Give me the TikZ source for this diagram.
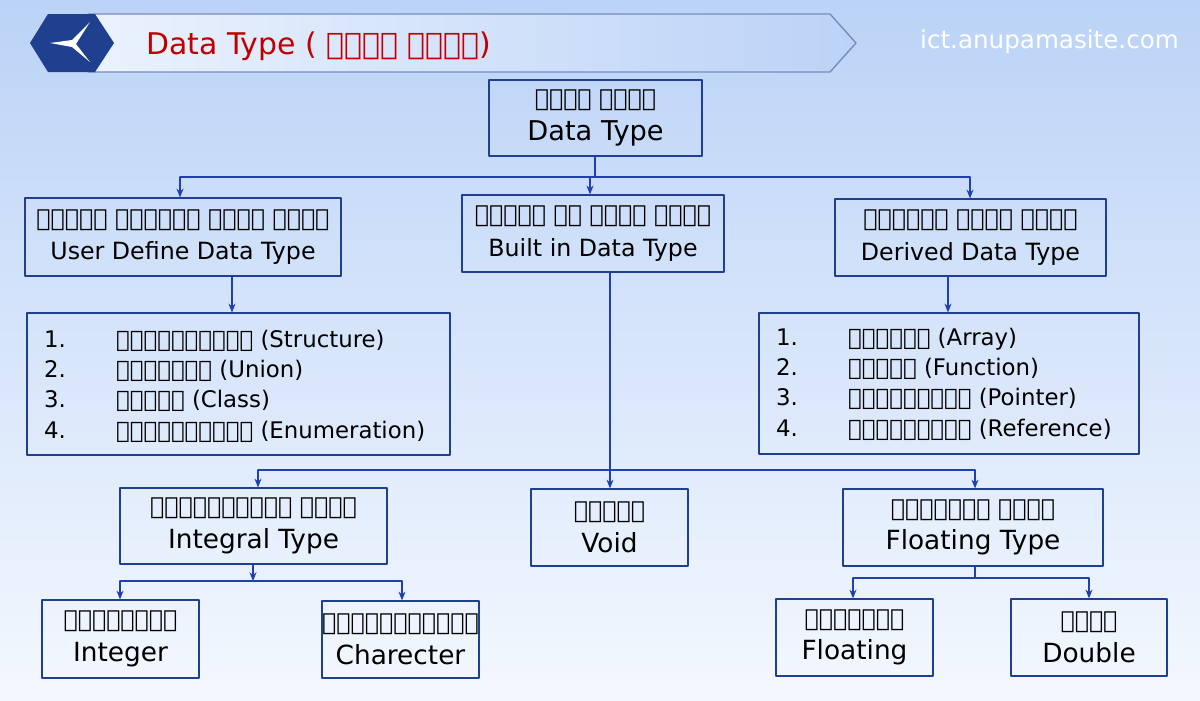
\documentclass[tikz,border=0pt]{standalone}
\usepackage{fontspec}
\setmainfont{DejaVu Sans}
\usetikzlibrary{arrows.meta,shapes.geometric}
\definecolor{boxblue}{HTML}{1F3F8F}
\definecolor{lineblue}{HTML}{2040B0}
\definecolor{bgtop}{HTML}{BBD3F7}
\definecolor{bgbot}{HTML}{F4F8FE}
\definecolor{titlered}{HTML}{C00000}
\tikzset{
  box/.style={draw=boxblue, line width=0.7pt, align=center, inner sep=0pt,
    font=\fontsize{13.5}{19}\selectfont},
  lst/.style={draw=boxblue, line width=0.7pt, align=left, inner sep=0pt},
  conn/.style={lineblue, line width=0.7pt},
  arr/.style={conn, -{Stealth[length=5pt,width=4pt]}}
}
\newcommand{\bx}[6]{% name, x1, y1, x2, y2, text
  \node[box, minimum width={(#4-#2)*0.02cm}, minimum height={(#5-#3)*0.02cm}]
    (#1) at ({(#2+#4)/2},{(#3+#5)/2}) {#6};}
\begin{document}
\begin{tikzpicture}[x=0.02cm, y=-0.02cm, line join=round, line cap=round]
  \shade[top color=bgtop, bottom color=bgbot] (0,0) rectangle (1200,700);
  \useasboundingbox (0,0) rectangle (1200,700);
  % banner
  \shade[left color=white!70!bgtop, right color=bgtop, draw=boxblue!60, line width=0.8pt]
    (88,14) -- (830,14) -- (856,43) -- (830,72) -- (88,72) -- cycle;
  \fill[boxblue] (48,14) -- (95,14) -- (114,43) -- (95,72) -- (48,72) -- (30,43) -- cycle;
  \fill[white] (50,43) -- (72,40) -- (90,22) -- (76,44) -- (90,62) -- (72,47) -- cycle;
  \node[anchor=west, text=titlered, font=\fontsize{17}{20}\selectfont]
    (title) at (140,46) {Data Type ( ডেটা টাইপ)};
  \node[anchor=east, text=white, font=\fontsize{14}{16}\selectfont]
    (site) at (1185,42) {ict.anupamasite.com};
  % boxes
  \bx{data}{489}{80}{702}{156}{ডেটা টাইপ\\\fontsize{15.5}{22}\selectfont Data Type}
  \bx{user}{25}{198}{341}{276}{ইউজার ডিফাইন ডেটা টাইপ\\User Define Data Type}
  \bx{built}{462}{195}{724}{272}{বিল্ড ইন ডেটা টাইপ\\Built in Data Type}
  \bx{derived}{835}{199}{1106}{276}{ডিরাইভ ডেটা টাইপ\\Derived Data Type}
  \bx{integral}{120}{488}{387}{564}{ইন্টিগ্রাল টাইপ\\\fontsize{15}{21}\selectfont Integral Type}
  \bx{void}{531}{489}{688}{566}{ভয়েড\\\fontsize{15}{21}\selectfont Void}
  \bx{floatT}{843}{489}{1103}{566}{ফ্লোটিং টাইপ\\\fontsize{15}{21}\selectfont Floating Type}
  \bx{integer}{42}{600}{199}{678}{ইন্টিজার\\\fontsize{15}{21}\selectfont Integer}
  \bx{charact}{322}{601}{479}{678}{ক্যারেক্টার\\\fontsize{15}{21}\selectfont Charecter}
  \bx{floating}{776}{599}{933}{676}{ফ্লোটিং\\\fontsize{15}{21}\selectfont Floating}
  \bx{double}{1011}{599}{1167}{676}{ডাবল\\\fontsize{15}{21}\selectfont Double}
  % lists
  \node[lst, minimum width=423*0.02cm, minimum height=142*0.02cm] (ulist) at (238.5,384) {};
  \node[anchor=north west, align=left, font=\fontsize{13}{17.2}\selectfont] (ultext) at (38,324)
    {1.\hspace{2.2em}স্ট্রাকচার (Structure)\\2.\hspace{2.2em}ইউনিয়ন (Union)\\
     3.\hspace{2.2em}ক্লাস (Class)\\4.\hspace{2.2em}এনিউমিরেশন (Enumeration)};
  \node[lst, minimum width=380*0.02cm, minimum height=141*0.02cm] (dlist) at (949,383.5) {};
  \node[anchor=north west, align=left, font=\fontsize{13}{17.2}\selectfont] (dltext) at (770,322)
    {1.\hspace{2.2em}অ্যারে (Array)\\2.\hspace{2.2em}ফাংশন (Function)\\
     3.\hspace{2.2em}পয়েন্টার (Pointer)\\4.\hspace{2.2em}রেফারেন্স (Reference)};
  % connectors
  \coordinate (j1) at (595,177);
  \draw[conn] (data.south -| j1) -- (j1);
  \draw[conn] (180,177) -- (970,177);
  \draw[arr] (180,177) -- (user.north -| 180,0);
  \draw[arr] (590,177) -- (built.north -| 590,0);
  \draw[arr] (970,177) -- (derived.north -| 970,0);
  \draw[arr] (user.south -| 232,0) -- (ulist.north -| 232,0);
  \draw[arr] (derived.south -| 948,0) -- (dlist.north -| 948,0);
  \draw[conn] (built.south -| 610,0) -- (610,470);
  \draw[conn] (258,470) -- (975,470);
  \draw[arr] (258,470) -- (integral.north -| 258,0);
  \draw[arr] (610,470) -- (void.north -| 610,0);
  \draw[arr] (975,470) -- (floatT.north -| 975,0);
  \draw[arr] (integral.south -| 253,0) -- (253,581);
  \draw[conn] (120,581) -- (402,581);
  \draw[arr] (120,581) -- (integer.north -| 120,0);
  \draw[arr] (402,581) -- (charact.north -| 402,0);
  \draw[conn] (floatT.south -| 975,0) -- (975,578);
  \draw[conn] (853,578) -- (1089,578);
  \draw[arr] (853,578) -- (floating.north -| 853,0);
  \draw[arr] (1089,578) -- (double.north -| 1089,0);
\end{tikzpicture}
\end{document}
